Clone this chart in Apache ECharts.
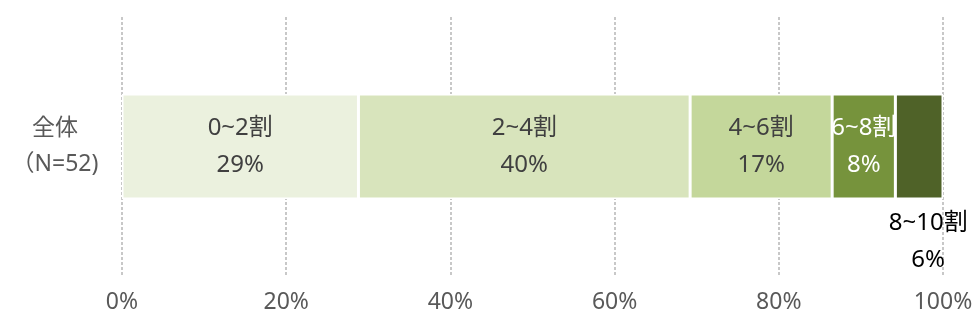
<!DOCTYPE html>
<html>
<head>
<meta charset="utf-8">
<script src="https://cdn.jsdelivr.net/npm/echarts@6/dist/echarts.min.js"></script>
<style>
  html, body { margin: 0; padding: 0; background: #fff; }
  #chart { width: 980px; height: 327px; }
</style>
</head>
<body>
<div id="chart"></div>
<script>
;(function () {
  'use strict'

  var categories = ['全体\n（N=52)']
  var segmentNames = ['0~2割', '2~4割', '4~6割', '6~8割', '8~10割']
  var segmentValues = [28.8, 40.4, 17.3, 7.7, 5.8]
  var segmentLabels = ['29%', '40%', '17%', '8%', '6%']
  var xTicks = [0, 20, 40, 60, 80, 100]

  var COLORS = ['#ebf1de', '#d8e4bc', '#c4d79b', '#76933c', '#4f6228']
  var LABEL_COLORS = ['#404040', '#404040', '#404040', '#ffffff', '#000000']
  var FONT = '"Noto Sans", "Noto Sans CJK JP", sans-serif'

  var chart = echarts.init(document.getElementById('chart'))

  var series = segmentNames.map(function (name, i) {
    var outside = i === segmentNames.length - 1
    return {
      name: name,
      type: 'bar',
      stack: 'total',
      barWidth: 105,
      data: [segmentValues[i]],
      itemStyle: { color: COLORS[i], borderColor: '#fff', borderWidth: 1.5 },
      label: {
        show: true,
        position: outside ? 'bottom' : 'inside',
        distance: 2,
        offset: outside ? [9, 4] : [0, 0],
        formatter: name + '\n' + segmentLabels[i],
        color: LABEL_COLORS[i],
        fontFamily: FONT,
        fontSize: 24,
        lineHeight: 37
      }
    }
  })

  chart.setOption({
    animation: false,
    grid: { left: 122, right: 37, top: 17, bottom: 51 },
    xAxis: {
      type: 'value',
      min: 0,
      max: 100,
      interval: 20,
      axisLine: { show: false },
      axisTick: { show: false },
      axisLabel: {
        color: '#595959',
        fontFamily: FONT,
        fontSize: 23,
        margin: 15,
        formatter: function (v) { return xTicks.indexOf(v) >= 0 ? v + '%' : '' }
      },
      splitLine: { show: true, lineStyle: { color: '#c8c8c8', width: 2, type: [3, 2] } }
    },
    yAxis: {
      type: 'category',
      data: categories,
      axisLine: { show: false },
      axisTick: { show: false },
      axisLabel: {
        color: '#595959',
        fontFamily: FONT,
        fontSize: 23,
        lineHeight: 36,
        align: 'center',
        margin: 67
      }
    },
    series: series
  })
})()
</script>
</body>
</html>
